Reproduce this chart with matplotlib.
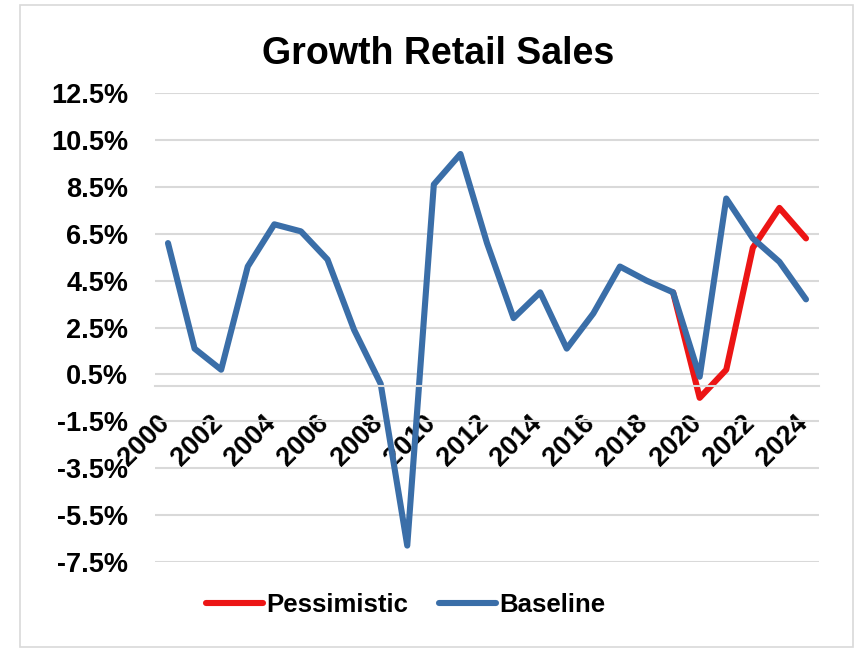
"""
Growth of retail sales: baseline vs pessimistic scenario
"""
import numpy as np
import matplotlib
matplotlib.use('Agg')
import matplotlib.pyplot as plt
from matplotlib.patches import Rectangle
from matplotlib.ticker import FuncFormatter
from matplotlib.transforms import ScaledTranslation

years = list(range(2000, 2025))
baseline = [6.1, 1.6, 0.7, 5.1, 6.9, 6.6, 5.4, 2.4, 0.1, -6.8, 8.6, 9.9, 6.1,
            2.9, 4.0, 1.6, 3.1, 5.1, 4.5, 4.0, 0.4, 8.0, 6.3, 5.3, 3.7]
pess_years = [2019, 2020, 2021, 2022, 2023, 2024]
pessimistic = [4.0, -0.5, 0.7, 5.9, 7.6, 6.3]

y_ticks = np.arange(-7.5, 12.6, 2.0)
x_ticks = list(range(2000, 2025, 2))

BLUE = '#3a6ea8'
RED = '#ec1515'
GRID = '#d9d9d9'

plt.rcParams['font.family'] = ['Liberation Sans', 'DejaVu Sans']
plt.rcParams['font.weight'] = 'bold'

W, H = 856, 649
fig = plt.figure(figsize=(W / 100, H / 100), dpi=100)

# plot area in pixels: x 154.7..819.3, y 93..562
ax = fig.add_axes([154.7 / W, 1 - 562 / H, 664.6 / W, 469 / H])

ax.plot(pess_years, pessimistic, color=RED, lw=4.4, label='Pessimistic',
        solid_capstyle='round')
ax.plot(years, baseline, color=BLUE, lw=4.4, label='Baseline',
        solid_capstyle='round')

for side in ['top', 'right', 'left']:
    ax.spines[side].set_visible(False)
# category axis crosses at zero (set before styling ticks, it resets them)
ax.spines['bottom'].set_position(('data', 0))
ax.spines['bottom'].set_color(GRID)
ax.spines['bottom'].set_linewidth(1.5)

ax.set_xlim(1999.5, 2024.5)
ax.set_ylim(-7.5, 12.5)
ax.set_yticks(y_ticks)
ax.yaxis.set_major_formatter(FuncFormatter(lambda v, p: f'{v:.1f}%'))
ax.set_xticks(x_ticks)
ax.set_xticklabels([str(y) for y in x_ticks])

ax.grid(axis='y', color=GRID, lw=1.5)
ax.set_axisbelow(True)

ax.tick_params(axis='y', length=0, pad=19, labelsize=19.5)
ax.tick_params(axis='x', length=0, pad=17, labelsize=19.5)
shift = ScaledTranslation(0.07, 0, fig.dpi_scale_trans)
for lbl in ax.get_xticklabels():
    lbl.set_rotation(45)
    lbl.set_ha('right')
    lbl.set_va('top')
    lbl.set_transform(lbl.get_transform() + shift)

fig.text(438 / W, 1 - 54 / H, 'Growth Retail Sales', ha='center', va='center',
         fontsize=27, fontweight='bold')

fig.legend(loc='center', bbox_to_anchor=(406 / W, 1 - 605 / H), ncol=2,
           frameon=False, fontsize=18.5, handlelength=2.2, handletextpad=0.15,
           columnspacing=1.2)

# chart border
fig.patches.append(Rectangle((20 / W, 2 / H), 833 / W, 642 / H,
                             transform=fig.transFigure, fill=False,
                             edgecolor=GRID, lw=1.2))

fig.savefig('out.png', dpi=100)
